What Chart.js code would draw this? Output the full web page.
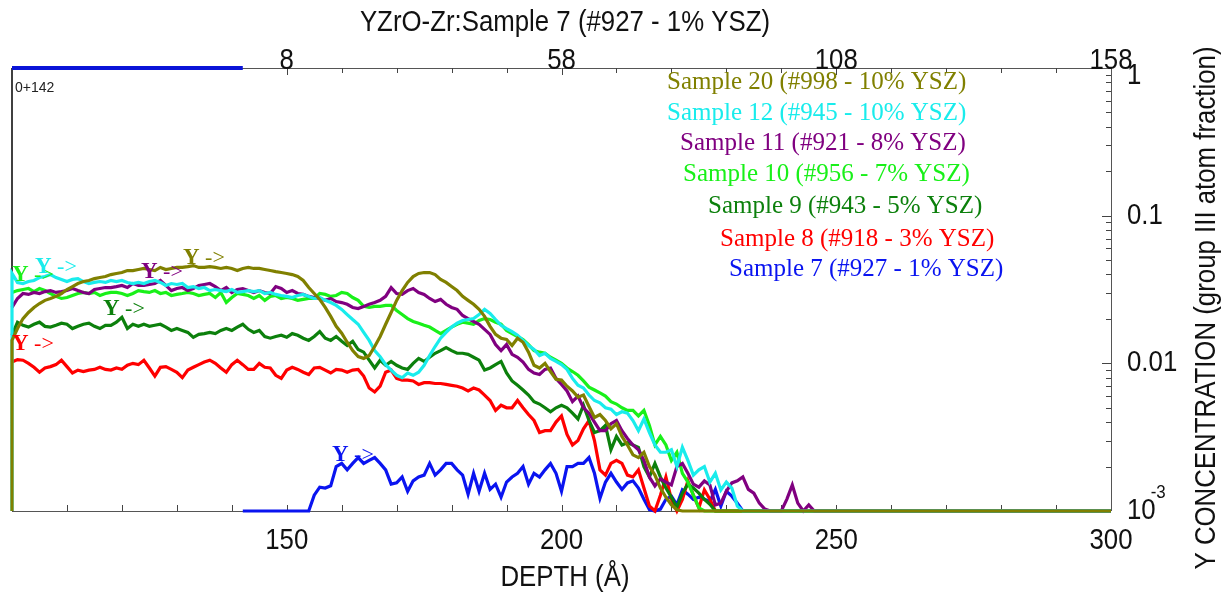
<!DOCTYPE html>
<html>
<head>
<meta charset="utf-8">
<script src="https://cdn.jsdelivr.net/npm/chart.js@4.4.1/dist/chart.umd.min.js"></script>
<style>
  html, body { margin: 0; padding: 0; background: #ffffff; }
  #wrap { width: 1224px; height: 594px; position: relative; }
</style>
</head>
<body>
<div id="wrap"><canvas id="c" width="1224" height="594"></canvas></div>
<script>
// ---------------- DATA ----------------
const depthStart = 100;          // Å, first depth of every profile (1 Å steps)
const floorConc = 0.001;         // bottom of the concentration axis
const depthEnd = 300;
const sample7Offset = 142;       // Sample 7 profile starts at 0+142 Å
const chartTitle = 'YZrO-Zr:Sample 7 (#927 - 1% YSZ)';
const xTitle = 'DEPTH (Å)';
const yTitle = 'Y CONCENTRATION (group III atom fraction)';

const seriesNames = [
  'Sample 20 (#998 - 10% YSZ)',
  'Sample 12 (#945 - 10% YSZ)',
  'Sample 11 (#921 - 8% YSZ)',
  'Sample 10 (#956 - 7% YSZ)',
  'Sample 9 (#943 - 5% YSZ)',
  'Sample 8 (#918 - 3% YSZ)',
  'Sample 7 (#927 - 1% YSZ)'
];
const seriesColors = ['#808000', '#19ecec', '#800080', '#19f019', '#0c800c', '#ff0000', '#0a14f0'];

const bottomTickLabels = [150, 200, 250, 300];
const topTickLabels = [8, 58, 108, 158];
const rightTickLabels = ['1', '0.1', '0.01', '10'];
const rightTickValues = [1, 0.1, 0.01, 0.001];

// Sample 20 (olive) – starts at the floor, rises at 100 Å
const sample20 = [
  0.0143,0.0172,0.0201,0.0221,0.0239,0.0254,0.0267,0.0275,0.0284,0.0297,
  0.0316,0.0331,0.0347,0.0358,0.0364,0.0375,0.0381,0.0387,0.0399,0.0406,
  0.0412,0.0425,0.0425,0.0432,0.0439,0.0432,0.0425,0.0446,0.0432,0.0439,
  0.0446,0.0446,0.0452,0.0459,0.0446,0.0446,0.0452,0.0446,0.0439,0.0446,
  0.0439,0.0425,0.0439,0.0446,0.0439,0.0439,0.0432,0.0425,0.0418,0.0412,
  0.0406,0.0399,0.0387,0.0364,0.0326,0.0297,0.0271,0.0239,0.0208,0.0178,
  0.0160,0.0139,0.0122,0.0111,0.0108,0.0113,0.0130,0.0152,0.0184,0.0221,
  0.0267,0.0311,0.0353,0.0387,0.0406,0.0412,0.0412,0.0399,0.0370,0.0353,
  0.0331,0.0311,0.0284,0.0267,0.0251,0.0232,0.0208,0.0178,0.0157,0.0148,
  0.0145,0.0132,0.0148,0.0139,0.0119,0.0097,0.0093,0.0100,0.0088,0.0078,
  0.0077,0.0070,0.0065,0.0059,0.0061,0.0051,0.0043,0.0045,0.0041,0.0036,
  0.0039,0.0032,0.0028,0.0024,0.0023,0.0025,0.0020,0.00175,0.00143,0.00124,
  0.0011,0.00102,0.001
];
// Sample 12 (cyan)
const sample12 = [
  0.0406,0.0353,0.0347,0.0358,0.0364,0.0381,0.0387,0.0399,0.0381,0.0370,
  0.0358,0.0370,0.0375,0.0358,0.0347,0.0353,0.0358,0.0353,0.0364,0.0358,
  0.0364,0.0353,0.0347,0.0353,0.0347,0.0358,0.0364,0.0353,0.0337,0.0347,
  0.0342,0.0347,0.0326,0.0331,0.0321,0.0326,0.0311,0.0316,0.0311,0.0306,
  0.0316,0.0302,0.0306,0.0311,0.0306,0.0311,0.0297,0.0302,0.0293,0.0288,
  0.0284,0.0279,0.0288,0.0293,0.0284,0.0275,0.0279,0.0267,0.0258,0.0247,
  0.0232,0.0214,0.0198,0.0184,0.0162,0.0143,0.0122,0.0111,0.0098,0.0090,
  0.0083,0.0080,0.0086,0.0083,0.0087,0.0097,0.0113,0.0130,0.0148,0.0162,
  0.0176,0.0187,0.0195,0.0198,0.0201,0.0214,0.0232,0.0218,0.0198,0.0181,
  0.0172,0.0164,0.0155,0.0143,0.0132,0.0124,0.0113,0.0117,0.0108,0.0103,
  0.0098,0.0091,0.0079,0.0071,0.0068,0.0061,0.0056,0.0054,0.0050,0.0049,
  0.0045,0.0047,0.0046,0.0041,0.0035,0.0042,0.0034,0.0028,0.0025,0.0025,
  0.0026,0.0020,0.0027,0.0022,0.00175,0.0019,0.0020,0.00157,0.0018,0.00139,
  0.00157,0.00143,0.00108,0.001
];
// Sample 11 (purple)
const sample11 = [
  0.0239,0.0275,0.0297,0.0293,0.0302,0.0297,0.0306,0.0311,0.0302,0.0306,
  0.0311,0.0321,0.0311,0.0302,0.0297,0.0316,0.0321,0.0326,0.0326,0.0331,
  0.0337,0.0326,0.0347,0.0337,0.0337,0.0342,0.0347,0.0364,0.0337,0.0311,
  0.0321,0.0326,0.0311,0.0321,0.0337,0.0342,0.0347,0.0331,0.0311,0.0326,
  0.0302,0.0316,0.0321,0.0311,0.0302,0.0311,0.0302,0.0297,0.0331,0.0321,
  0.0302,0.0311,0.0297,0.0293,0.0284,0.0279,0.0275,0.0267,0.0275,0.0262,
  0.0258,0.0251,0.0239,0.0235,0.0243,0.0251,0.0258,0.0267,0.0284,0.0326,
  0.0297,0.0293,0.0311,0.0321,0.0302,0.0293,0.0275,0.0262,0.0271,0.0251,
  0.0239,0.0232,0.0211,0.0201,0.0192,0.0184,0.0170,0.0157,0.0134,0.0122,
  0.0134,0.0115,0.0110,0.0102,0.0091,0.0086,0.0084,0.0091,0.0093,0.0079,
  0.0072,0.0065,0.0055,0.0060,0.0050,0.0046,0.0040,0.0035,0.0035,0.0039,
  0.0041,0.0035,0.0031,0.0028,0.0026,0.0022,0.0017,0.00148,0.00165,0.00157,
  0.0015,0.0020,0.0021,0.0018,0.00152,0.00145,0.0016,0.0015,0.0011,0.00113,
  0.00136,0.00155,0.0016,0.0017,0.0014,0.00132,0.00113,0.00103,0.001,0.001,
  0.001,0.0012,0.0015,0.00113,0.001,0.0011,0.001
];
// Sample 10 (light green)
const sample10 = [
  0.0302,0.0311,0.0316,0.0321,0.0306,0.0321,0.0311,0.0297,0.0284,0.0275,
  0.0279,0.0288,0.0297,0.0302,0.0297,0.0302,0.0288,0.0297,0.0302,0.0302,
  0.0297,0.0288,0.0297,0.0311,0.0306,0.0302,0.0311,0.0297,0.0302,0.0288,
  0.0293,0.0297,0.0302,0.0297,0.0288,0.0293,0.0297,0.0279,0.0302,0.0258,
  0.0279,0.0297,0.0293,0.0288,0.0275,0.0288,0.0267,0.0284,0.0288,0.0275,
  0.0279,0.0275,0.0267,0.0271,0.0275,0.0275,0.0297,0.0293,0.0284,0.0288,
  0.0302,0.0297,0.0279,0.0267,0.0243,0.0239,0.0243,0.0243,0.0247,0.0247,
  0.0228,0.0214,0.0201,0.0192,0.0187,0.0181,0.0176,0.0167,0.0159,0.0167,
  0.0176,0.0184,0.0190,0.0187,0.0184,0.0195,0.0201,0.0198,0.0190,0.0184,
  0.0167,0.0159,0.0152,0.0145,0.0134,0.0122,0.0119,0.0117,0.0110,0.0105,
  0.0100,0.0093,0.0088,0.0083,0.0076,0.0069,0.0066,0.0063,0.0060,0.0055,
  0.0053,0.0050,0.0048,0.0048,0.0044,0.0048,0.0038,0.0028,0.0032,0.0028,
  0.0022,0.0025,0.0018,0.00157,0.00128,0.00105,0.001
];
// Sample 9 (dark green)
const sample9 = [
  0.0155,0.0190,0.0181,0.0176,0.0184,0.0190,0.0178,0.0176,0.0181,0.0187,
  0.0184,0.0172,0.0178,0.0184,0.0187,0.0178,0.0172,0.0181,0.0181,0.0190,
  0.0205,0.0172,0.0184,0.0178,0.0184,0.0178,0.0181,0.0184,0.0176,0.0167,
  0.0172,0.0167,0.0162,0.0150,0.0157,0.0159,0.0162,0.0159,0.0167,0.0172,
  0.0167,0.0176,0.0184,0.0170,0.0162,0.0167,0.0152,0.0148,0.0152,0.0155,
  0.0150,0.0159,0.0155,0.0148,0.0143,0.0152,0.0164,0.0148,0.0143,0.0152,
  0.0141,0.0132,0.0141,0.0124,0.0119,0.0105,0.0093,0.0105,0.0097,0.0103,
  0.0097,0.0093,0.0091,0.0100,0.0108,0.0103,0.0110,0.0117,0.0122,0.0128,
  0.0122,0.0117,0.0117,0.0115,0.0110,0.0105,0.0090,0.0093,0.0098,0.0103,
  0.0086,0.0076,0.0071,0.0066,0.0061,0.0055,0.0053,0.0050,0.0047,0.0050,
  0.0052,0.0050,0.0046,0.0042,0.0052,0.0041,0.0034,0.0035,0.0038,0.0026,
  0.0032,0.0028,0.0029,0.0028,0.0027,0.0020,0.0017,0.0021,0.0017,0.00143,
  0.00124,0.00106,0.00132,0.00152,0.00143,0.00132,0.0012,0.00111,0.001
];
// Sample 8 (red)
const sample8 = [
  0.0102,0.0106,0.0105,0.0100,0.0094,0.0087,0.0093,0.0095,0.0098,0.0105,
  0.0095,0.0086,0.0090,0.0088,0.0090,0.0091,0.0094,0.0091,0.0090,0.0093,
  0.0091,0.0097,0.0100,0.0098,0.0105,0.0093,0.0082,0.0094,0.0095,0.0091,
  0.0087,0.0080,0.0090,0.0094,0.0098,0.0102,0.0105,0.0100,0.0093,0.0087,
  0.0098,0.0105,0.0098,0.0091,0.0091,0.0100,0.0094,0.0093,0.0083,0.0079,
  0.0090,0.0094,0.0091,0.0087,0.0084,0.0093,0.0094,0.0090,0.0086,0.0091,
  0.0090,0.0087,0.0090,0.0091,0.0082,0.0068,0.0064,0.0070,0.0087,0.0090,
  0.0079,0.0077,0.0077,0.0076,0.0072,0.0074,0.0074,0.0073,0.0073,0.0072,
  0.0071,0.0070,0.0068,0.0065,0.0068,0.0066,0.0061,0.0056,0.0048,0.0052,
  0.0050,0.0050,0.0056,0.0050,0.0045,0.0041,0.0034,0.0035,0.0035,0.0040,
  0.0044,0.0033,0.0028,0.0030,0.0036,0.0041,0.0030,0.0019,0.00175,0.0021,
  0.0022,0.0021,0.00175,0.0017,0.0019,0.00143,0.00108,0.001,0.00128,0.0017,
  0.0012,0.001,0.0012,0.0016,0.00128,0.00105,0.00139,0.0012,0.001
];
// Sample 7 (blue) – starts at 142 Å
const sample7 = [
  0.001,0.001,0.001,0.001,0.001,0.001,0.001,0.001,0.001,0.001,
  0.001,0.001,0.001,0.00128,0.00145,0.00143,0.00148,0.0020,0.0021,0.0019,
  0.0021,0.0023,0.0021,0.0022,0.0023,0.0021,0.0019,0.00152,0.00155,0.0017,
  0.00136,0.0016,0.0017,0.00175,0.0021,0.00175,0.0019,0.0021,0.0021,0.0019,
  0.00175,0.0013,0.0018,0.00136,0.0018,0.0014,0.00152,0.00124,0.00157,0.0017,
  0.0018,0.0020,0.00152,0.0018,0.0017,0.0019,0.0021,0.0018,0.00136,0.0020,
  0.0020,0.0021,0.0021,0.0023,0.0018,0.00122,0.00157,0.0018,0.00157,0.0014,
  0.00155,0.0016,0.00143,0.0012,0.00102,0.001,0.00103,0.0012,0.00126,0.0011,
  0.00139,0.0013,0.0012,0.00124,0.0012,0.00116,0.0014,0.00108,0.00136,0.00126,
  0.00113,0.001
];

// ---------------- BUILD ----------------
function profile(values, start, startsFromFloor) {
  const pts = [];
  if (startsFromFloor) pts.push({ x: start, y: floorConc });
  values.forEach((v, i) => pts.push({ x: start + i, y: v }));
  pts.push({ x: depthEnd, y: floorConc });
  return pts;
}
const seriesValues = [sample20, sample12, sample11, sample10, sample9, sample8, sample7];
const seriesStarts = [depthStart, depthStart, depthStart, depthStart, depthStart, depthStart, depthStart + sample7Offset - 100];
const seriesFromFloor = [true, true, false, false, false, false, false];

const datasets = seriesValues.map((vals, i) => ({
  label: seriesNames[i],
  data: profile(vals, seriesStarts[i], seriesFromFloor[i]),
  borderColor: seriesColors[i],
  borderWidth: 3.2,
  pointRadius: 0,
  tension: 0,
  fill: false,
  clip: 6
}));
// Sample 7 depth offset marker along the top axis (0 → +142)
datasets.push({
  label: 'offset',
  data: [{ x: depthStart, y: 1 }, { x: sample7Offset, y: 1 }],
  borderColor: '#0a14d8',
  borderWidth: 4,
  pointRadius: 0,
  fill: false,
  clip: 6
});

const AXIS_FONT = '"Liberation Sans", Arial, sans-serif';
const TEXT_PX = 29;       // axis text size
const TEXT_SX = 0.89;     // original axis lettering is condensed
const SERIF = '"Liberation Serif", "Times New Roman", serif';

function condensedText(ctx, text, x, y, px, sx, align, baseline) {
  ctx.save();
  ctx.font = px + 'px ' + AXIS_FONT;
  ctx.textAlign = align;
  ctx.textBaseline = baseline;
  ctx.translate(x, y);
  ctx.scale(sx, 1);
  ctx.fillText(text, 0, 0);
  const w = ctx.measureText(text).width * sx;
  ctx.restore();
  return w;
}

const yArrowLabels = [
  { i: 0, x: 183, y: 258 },
  { i: 3, x: 12, y: 275 },
  { i: 1, x: 35, y: 267 },
  { i: 2, x: 141, y: 272 },
  { i: 4, x: 103, y: 309 },
  { i: 5, x: 12, y: 344 },
  { i: 6, x: 332, y: 455 }
];
const legendPos = [[667, 82], [667, 113], [680, 143], [683, 174], [708, 206], [720, 239], [729, 269]];

const decor = {
  id: 'decor',
  beforeDatasetsDraw(chart) {
    const { ctx, chartArea: a, scales } = chart;
    const xs = scales.x, x2 = scales.x2, ys = scales.y;
    ctx.save();
    ctx.lineWidth = 1;
    ctx.strokeStyle = '#555';
    ctx.beginPath();
    ctx.moveTo(a.left, a.top + 0.5); ctx.lineTo(a.right, a.top + 0.5);
    ctx.moveTo(a.left, a.bottom + 0.5); ctx.lineTo(a.right, a.bottom + 0.5);
    ctx.moveTo(a.right + 0.5, a.top); ctx.lineTo(a.right + 0.5, a.bottom);
    ctx.stroke();
    ctx.strokeStyle = '#000';
    ctx.lineWidth = 1.5;
    ctx.beginPath();
    ctx.moveTo(a.left, a.top); ctx.lineTo(a.left, a.bottom);
    ctx.stroke();
    ctx.lineWidth = 1;
    ctx.strokeStyle = '#444';
    ctx.beginPath();
    for (let v = 110; v < depthEnd; v += 10) {
      const px = Math.round(xs.getPixelForValue(v)) + 0.5;
      ctx.moveTo(px, a.bottom); ctx.lineTo(px, a.bottom - 6);
    }
    for (let t = topTickLabels[0]; t < topTickLabels[topTickLabels.length - 1]; t += 10) {
      const px = Math.round(x2.getPixelForValue(t)) + 0.5;
      ctx.moveTo(px, a.top); ctx.lineTo(px, a.top + (t % 50 === 8 ? 7 : 5));
    }
    for (let d = 0.001; d < 1; d *= 10) {
      for (let k = 1; k <= 9; k++) {
        const py = Math.round(ys.getPixelForValue(d * k)) + 0.5;
        const len = k === 1 ? 9 : 5;
        ctx.moveTo(a.right, py); ctx.lineTo(a.right - len, py);
      }
    }
    ctx.stroke();
    ctx.restore();
  },
  afterDraw(chart) {
    const { ctx, chartArea: a, scales } = chart;
    const xs = scales.x, x2 = scales.x2, ys = scales.y;
    ctx.save();
    ctx.fillStyle = '#111';
    bottomTickLabels.forEach(v => condensedText(ctx, String(v), xs.getPixelForValue(v), 541, TEXT_PX, TEXT_SX, 'center', 'middle'));
    topTickLabels.forEach(v => condensedText(ctx, String(v), x2.getPixelForValue(v), 69, TEXT_PX, TEXT_SX, 'center', 'alphabetic'));
    rightTickValues.forEach((v, i) => {
      const py = ys.getPixelForValue(v);
      const w = condensedText(ctx, rightTickLabels[i], a.right + 16, i === 0 ? py + 8 : py, TEXT_PX, TEXT_SX, 'left', 'middle');
      if (v === floorConc) {
        condensedText(ctx, '-3', a.right + 16 + w - 5, py - 18, 19, TEXT_SX, 'left', 'middle');
      }
    });
    condensedText(ctx, chartTitle, 565, 23, TEXT_PX, TEXT_SX, 'center', 'middle');
    condensedText(ctx, xTitle, 565, 578, TEXT_PX, TEXT_SX, 'center', 'middle');
    ctx.save();
    ctx.translate(1207, 308);
    ctx.rotate(-Math.PI / 2);
    condensedText(ctx, yTitle, 0, 0, TEXT_PX, TEXT_SX, 'center', 'middle');
    ctx.restore();
    ctx.font = '14px ' + AXIS_FONT;
    ctx.textAlign = 'left';
    ctx.textBaseline = 'middle';
    ctx.fillStyle = '#222';
    ctx.fillText('0+' + sample7Offset, a.left + 3, 88);
    ctx.font = '25px ' + SERIF;
    seriesNames.forEach((n, i) => {
      ctx.fillStyle = seriesColors[i];
      ctx.fillText(n, legendPos[i][0], legendPos[i][1]);
    });
    yArrowLabels.forEach(l => {
      ctx.fillStyle = seriesColors[l.i];
      ctx.font = 'bold 23px ' + SERIF;
      ctx.fillText('Y', l.x, l.y);
      const w = ctx.measureText('Y').width;
      ctx.font = '22px ' + SERIF;
      ctx.fillText(' ->', l.x + w, l.y);
    });
    ctx.restore();
  }
};

new Chart(document.getElementById('c'), {
  type: 'line',
  data: { datasets },
  options: {
    responsive: false,
    animation: false,
    devicePixelRatio: 1,
    layout: { padding: { left: 12, right: 113, top: 68, bottom: 83 } },
    plugins: { legend: { display: false }, tooltip: { enabled: false } },
    elements: { point: { radius: 0 }, line: { tension: 0 } },
    scales: {
      x: { type: 'linear', min: depthStart, max: depthEnd, display: false },
      x2: { type: 'linear', min: depthStart - sample7Offset, max: depthEnd - sample7Offset, display: false },
      y: { type: 'logarithmic', min: floorConc, max: 1, display: false }
    }
  },
  plugins: [decor]
});
</script>
</body>
</html>
